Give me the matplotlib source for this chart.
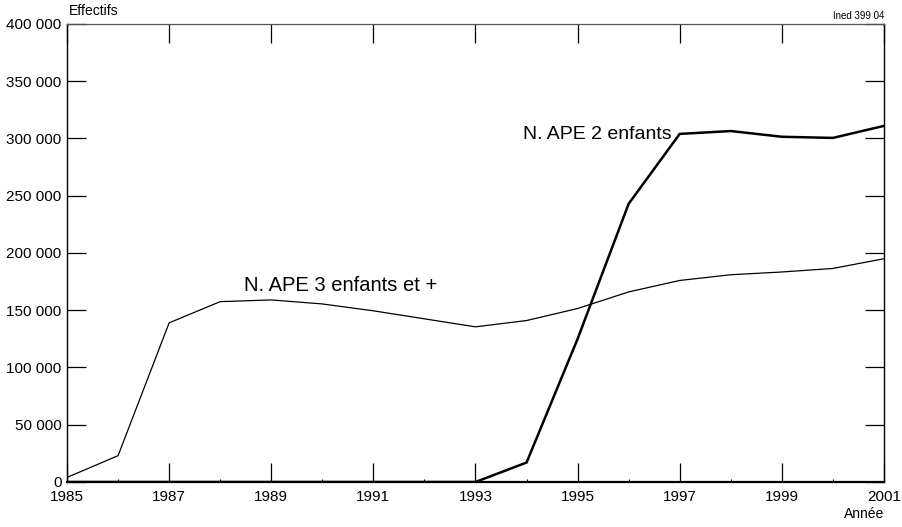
import matplotlib
matplotlib.use("Agg")
import matplotlib.pyplot as plt
from matplotlib.ticker import FuncFormatter, MultipleLocator

plt.rcParams["font.family"] = ["Liberation Sans", "DejaVu Sans"]

years = list(range(1985, 2002))
ape_3_plus = [4000, 23000, 139000, 157500, 159000, 155500, 149500, 142500, 135500,
              141000, 151500, 166000, 176000, 181000, 183400, 186500, 195000]
ape_2 = [0, 0, 0, 0, 0, 0, 0, 0, 0,
         17000, 125000, 243000, 304000, 306500, 301500, 300500, 311000]

x_ticks = list(range(1985, 2002, 2))
y_ticks = list(range(0, 400001, 50000))


def fmt_thousands(v, pos):
    return f"{int(v):,}".replace(",", " ")


fig = plt.figure(figsize=(9.02, 5.27), dpi=100)
ax = fig.add_axes([0.0743, 0.0854, 0.9057, 0.8691])

ax.plot(years, ape_3_plus, color="black", lw=0.9, solid_joinstyle="miter")
ax.plot(years, ape_2, color="black", lw=1.8, solid_joinstyle="miter")

ax.set_xlim(1985, 2001)
ax.set_ylim(0, 400000)
ax.set_xticks(x_ticks)
ax.set_yticks(y_ticks)
ax.xaxis.set_minor_locator(MultipleLocator(1))
ax.yaxis.set_major_formatter(FuncFormatter(fmt_thousands))

ax.tick_params(axis="both", which="major", direction="in", length=14, width=0.9,
               labelsize=11, colors="black")
ax.tick_params(axis="x", which="major", top=True, pad=6)
ax.tick_params(axis="x", which="minor", direction="in", length=2, width=0.8)
ax.tick_params(axis="y", which="major", right=True, pad=4)

for side in ["left", "right"]:
    ax.spines[side].set_linewidth(1.0)
ax.spines["bottom"].set_linewidth(1.6)
ax.spines["top"].set_linewidth(0.9)
ax.spines["top"].set_color("#555555")

ax.text(1988.47, 166500, "N. APE 3 enfants et +", fontsize=14.5, va="baseline")
ax.text(1993.93, 299500, "N. APE 2 enfants", fontsize=14, va="baseline")

fig.text(0.0765, 0.965, "Effectifs", fontsize=10, ha="left", va="bottom")
fig.text(0.98, 0.961, "Ined 399 04", fontsize=7, ha="right", va="bottom")
fig.text(0.98, 0.012, "Année", fontsize=10, ha="right", va="bottom")

fig.savefig("out.png", dpi=100)
